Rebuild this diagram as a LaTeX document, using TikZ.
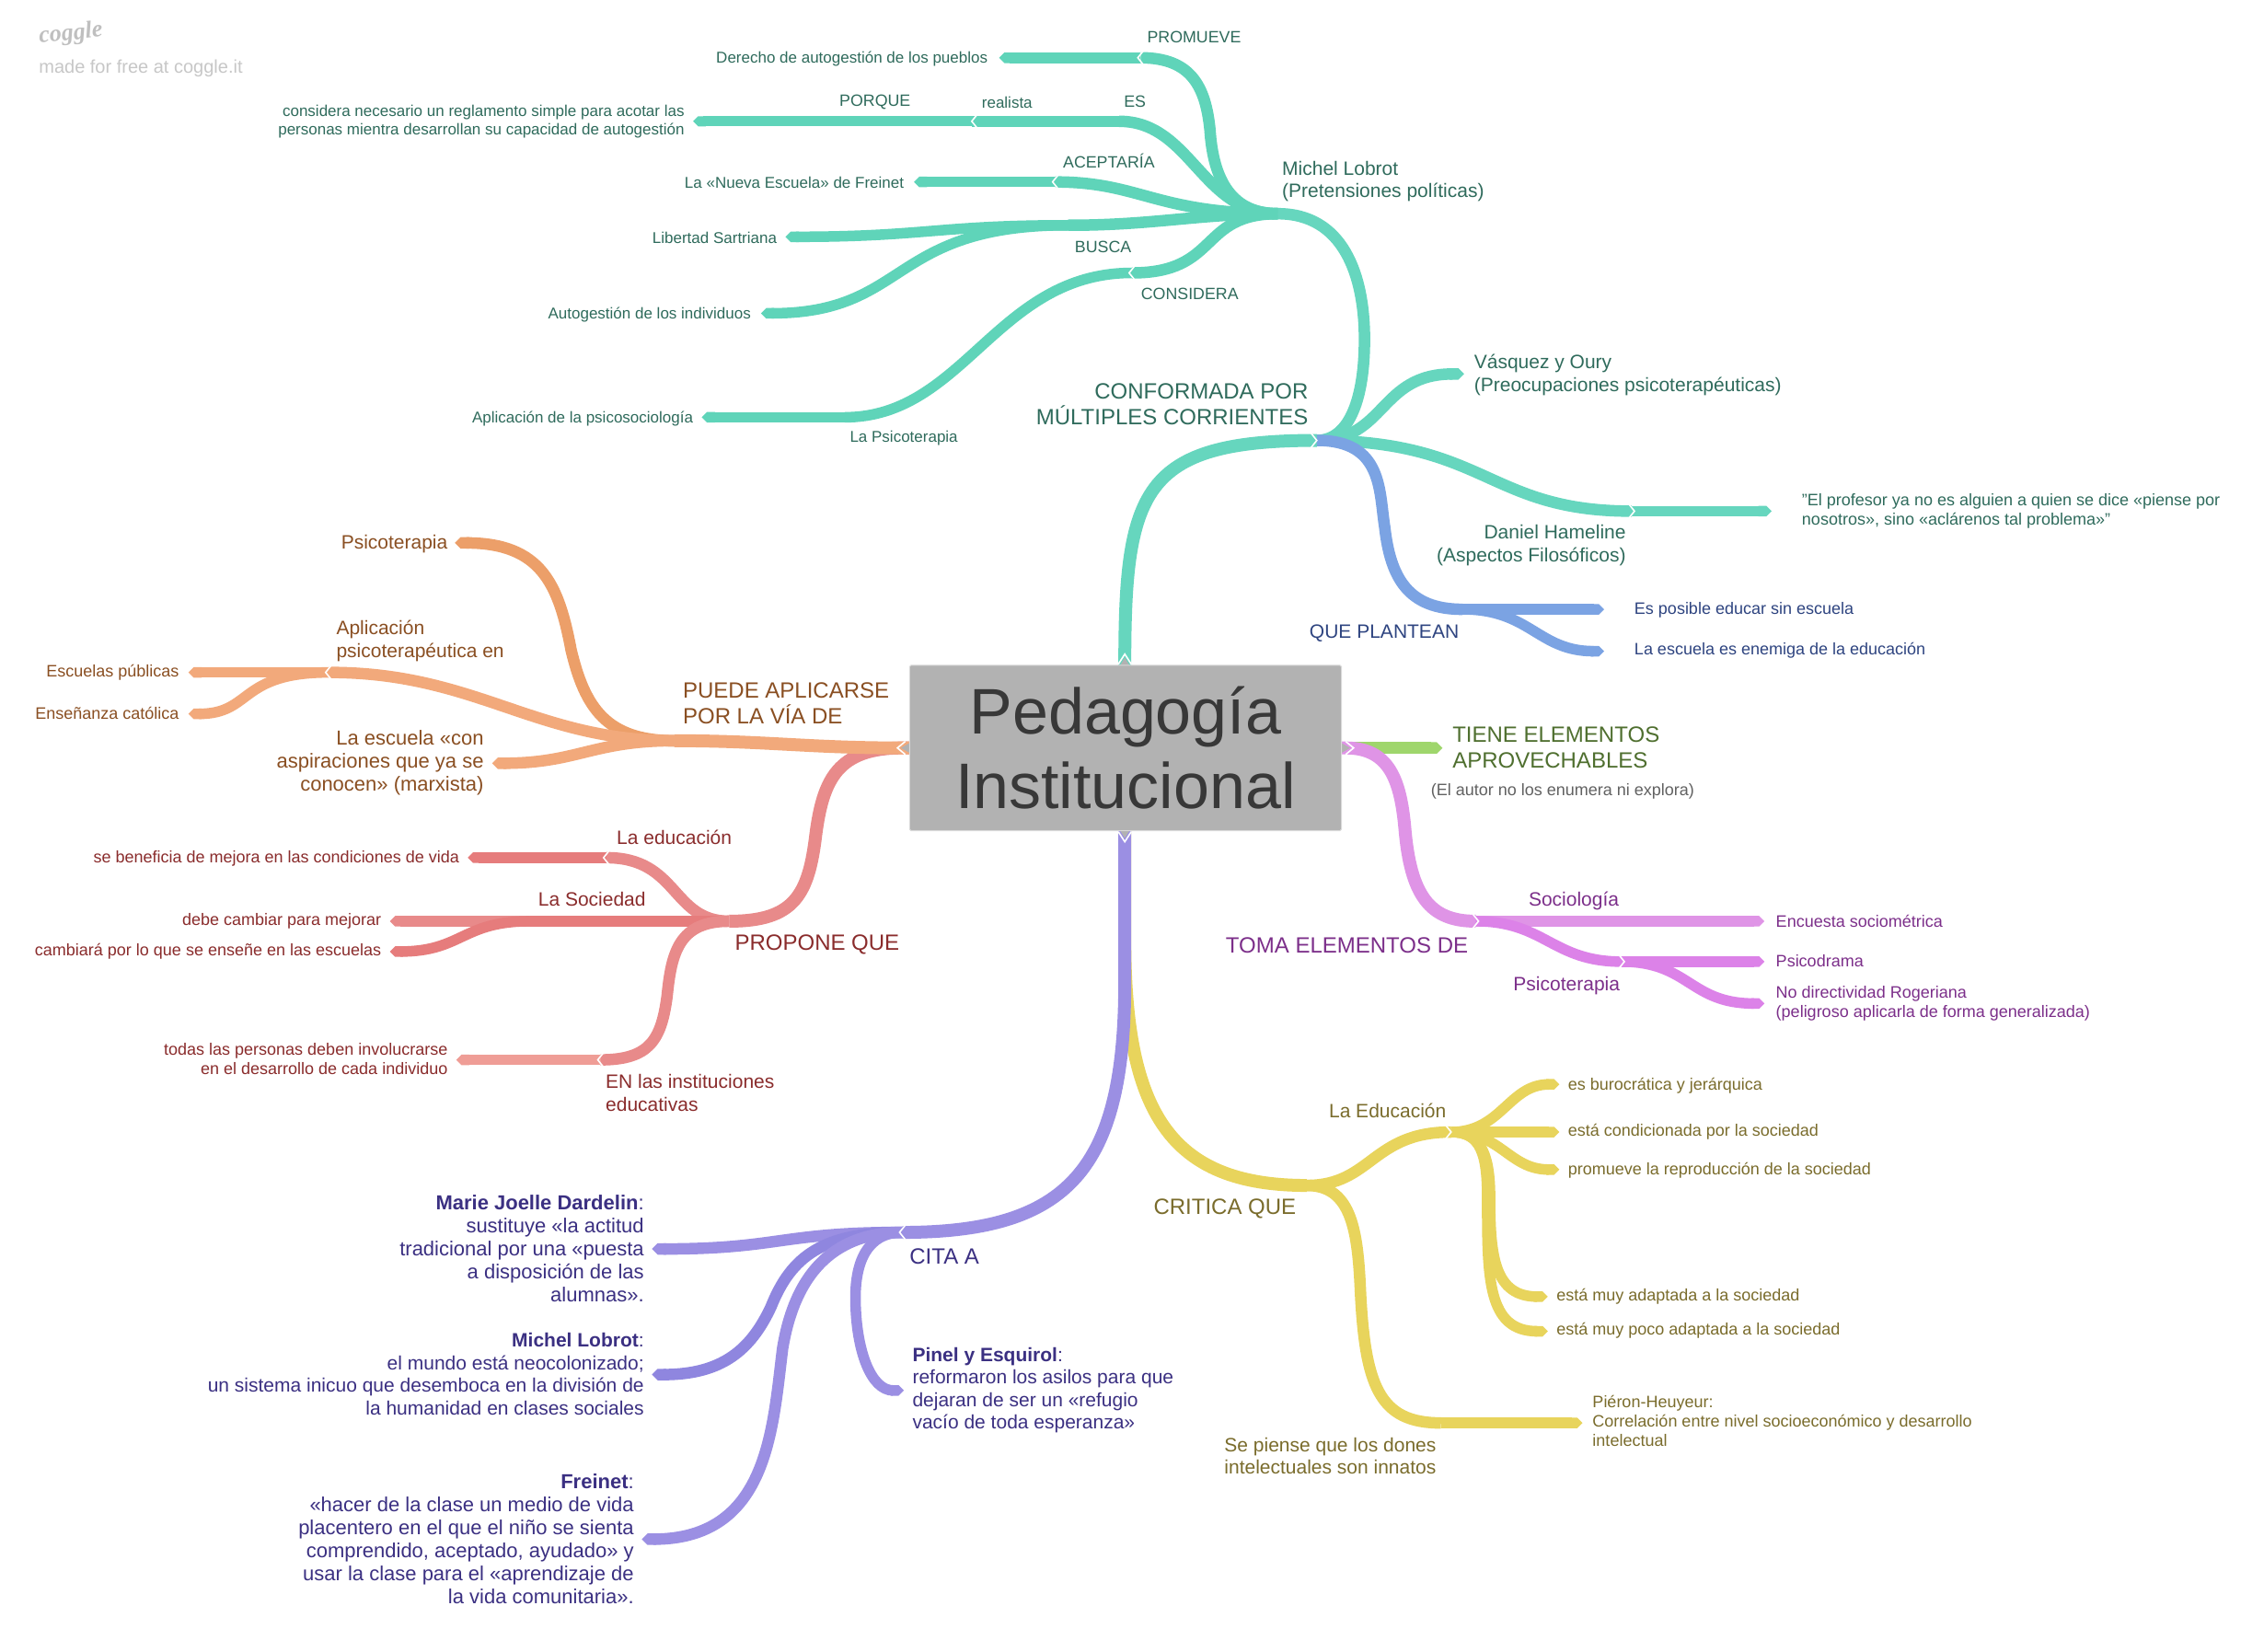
\documentclass[tikz,border=0pt]{standalone}
\usepackage{fontspec}
\setmainfont{Liberation Sans}
\newfontfamily\logofont{Liberation Serif}
\usetikzlibrary{arrows.meta}
\definecolor{teal1}{HTML}{66D6BE}
\definecolor{teal2}{HTML}{5FD4B9}
\definecolor{tealt}{HTML}{2F6B5C}
\definecolor{blue1}{HTML}{7BA3E3}
\definecolor{bluet}{HTML}{2E4480}
\definecolor{green1}{HTML}{9FD66C}
\definecolor{greent}{HTML}{4F6F2F}
\definecolor{pink1}{HTML}{DF94E6}
\definecolor{pink2}{HTML}{DC82E8}
\definecolor{pinkt}{HTML}{7C2F8A}
\definecolor{yel1}{HTML}{E8D45C}
\definecolor{yelt}{HTML}{7A6C2C}
\definecolor{pur1}{HTML}{9B8FE3}
\definecolor{pur2}{HTML}{8F86DF}
\definecolor{purt}{HTML}{3B3082}
\definecolor{red1}{HTML}{E88A8A}
\definecolor{red2}{HTML}{E67C7C}
\definecolor{red3}{HTML}{EF9D96}
\definecolor{redt}{HTML}{8A2C2C}
\definecolor{ora1}{HTML}{F2A97B}
\definecolor{ora2}{HTML}{EC9F69}
\definecolor{orat}{HTML}{8A4F22}
\definecolor{boxg}{HTML}{B2B2B2}
\tikzset{
  x=1.56888pt,y=-1.56888pt,
  lvA/.style={line width=14pt,line cap=butt},
  lvB/.style={line width=12.5pt,line cap=butt},
  lvC/.style={line width=11.5pt,line cap=butt},
  lvD/.style={line width=11pt,line cap=butt},
  tipend/.style={-{Triangle Cap[]}},
  txt/.style={inner sep=0pt,outer sep=0pt,yshift=-1.2pt},
  txz/.style={inner sep=0pt,outer sep=0pt},
  sA/.style={txt,font=\fontsize{17pt}{20.5pt}\selectfont},
  sAA/.style={txt,font=\fontsize{18pt}{21pt}\selectfont},
  sCap/.style={txt,font=\fontsize{17.8pt}{20.5pt}\selectfont},
  sB/.style={txt,font=\fontsize{21pt}{24.5pt}\selectfont},
  sBB/.style={txz,font=\fontsize{22pt}{25pt}\selectfont},
  sC/.style={txz,font=\fontsize{24pt}{28pt}\selectfont},
  L/.style={anchor=west,align=left},
  R/.style={anchor=east,align=right},
  chevline/.style={draw=white,line width=1.6pt,line join=miter},
}
\newcommand{\mychev}[4][5]{\draw[chevline,shift={#2},rotate=#3] (-4,-#1) -- (0,0) -- (-4,#1);}
\begin{document}
\begin{tikzpicture}
\path[use as bounding box,fill=white] (0,0) rectangle (1568,1144.12);

% --- junction and end coordinates
\coordinate (ct) at (779,462); \coordinate (cb) at (779,574);
\coordinate (cl) at (632,518); \coordinate (cr) at (927,518);
\coordinate (j1) at (912,305); \coordinate (jml) at (885,148);
\coordinate (eVO) at (1014,259); \coordinate (jDH) at (1130,354); \coordinate (eDH) at (1227,354);
\coordinate (jPM) at (790,40); \coordinate (ePM) at (692,40);
\coordinate (jES) at (775,84); \coordinate (jRE) at (673,84); \coordinate (jPQ) at (575,84); \coordinate (ePQ) at (480,84);
\coordinate (jAC) at (731,126); \coordinate (eAC) at (633,126);
\coordinate (jBU) at (740,156); \coordinate (eLS) at (544,164); \coordinate (eAI) at (527,217);
\coordinate (jCO) at (784,189); \coordinate (jPS) at (585,289); \coordinate (ePS) at (486,289);
\coordinate (jQP) at (1013,422); \coordinate (eQ1) at (1111,422); \coordinate (eQ2) at (1111,451);
\coordinate (eGR) at (999,518);
\coordinate (jTE) at (1022,638); \coordinate (jSO) at (1123,638); \coordinate (eSO) at (1222,638);
\coordinate (jPT) at (1123,666); \coordinate (ePD) at (1222,666); \coordinate (eND) at (1222,695);
\coordinate (jCR) at (905,821); \coordinate (jLE) at (1005,784);
\coordinate (eE1) at (1080,751); \coordinate (eE2) at (1080,784); \coordinate (eE3) at (1080,810);
\coordinate (eE4) at (1072,898); \coordinate (eE5) at (1072,922);
\coordinate (jSP) at (998,985.5); \coordinate (eSP) at (1096,985.5);
\coordinate (jCI) at (625,853.5); \coordinate (eMJ) at (451.5,865); \coordinate (eML) at (451.5,952);
\coordinate (eFR) at (444.5,1066); \coordinate (ePI) at (626,963);
\coordinate (jPR) at (505,638); \coordinate (jED) at (420,594); \coordinate (eED) at (324,594);
\coordinate (jSC) at (367,638); \coordinate (eS1) at (270,638); \coordinate (eS2) at (270,659);
\coordinate (jIN) at (416,734); \coordinate (eIN) at (316,734);
\coordinate (jPA) at (467,513); \coordinate (ePC) at (315,376); \coordinate (jAP) at (228,465.7);
\coordinate (eA1) at (130.5,465.7); \coordinate (eA2) at (130.5,494.4); \coordinate (eMX) at (340.8,528.6);

% --- yellow
\draw[lvA,yel1] (cb) -- (779,650) .. controls (779,770) and (810,821) .. (jCR);
\draw[lvB,yel1] (jCR) .. controls (950,821) and (950,784) .. (jLE);
\draw[lvC,yel1,tipend] (jLE) .. controls (1040,784) and (1045,751) .. (eE1);
\draw[lvC,yel1,tipend] (jLE) -- (eE2);
\draw[lvC,yel1,tipend] (jLE) .. controls (1040,784) and (1045,810) .. (eE3);
\draw[lvC,yel1,tipend] (jLE) .. controls (1026,784) and (1032,800) .. (1032,830) .. controls (1032,870) and (1035,898) .. (eE4);
\draw[lvC,yel1,tipend] (jLE) .. controls (1026,784) and (1030,800) .. (1030,830) .. controls (1030,885) and (1030,922) .. (eE5);
\draw[lvB,yel1] (jCR) .. controls (935,821) and (940,850) .. (942,890) .. controls (945,960) and (955,985.5) .. (jSP);
\draw[lvC,yel1,tipend] (jSP) -- (eSP);

% --- purple
\draw[lvA,pur1] (cb) -- (779,680) .. controls (779,810) and (740,853.5) .. (jCI);
\draw[lvB,pur1,tipend] (jCI) .. controls (540,853.5) and (540,865) .. (eMJ);
\draw[lvB,pur2,tipend] (jCI) .. controls (570,853.5) and (548,870) .. (534,905) .. controls (520,935) and (500,952) .. (eML);
\draw[lvB,pur1,tipend] (jCI) .. controls (575,853.5) and (550,885) .. (542,934) .. controls (535,990) and (532,1066) .. (eFR);
\draw[lvC,pur1,tipend] (jCI) .. controls (600,853.5) and (592,875) .. (592.5,901) .. controls (593,935) and (603,963) .. (ePI);

% --- teal
\draw[lvA,teal1] (ct) .. controls (779,340) and (790,305) .. (j1);
\draw[lvB,teal1] (jml) .. controls (930,148) and (945,190) .. (945,235) .. controls (945,275) and (935,305) .. (j1);
\draw[lvB,teal1,tipend] (j1) .. controls (960,305) and (955,259) .. (eVO);
\draw[lvB,teal1] (j1) .. controls (1030,305) and (1030,354) .. (jDH);
\draw[lvC,teal1,tipend] (jDH) -- (eDH);
\draw[lvB,teal2] (jml) .. controls (850,148) and (840,120) .. (838,90) .. controls (835,60) and (825,40) .. (jPM);
\draw[lvC,teal2,tipend] (jPM) -- (ePM);
\draw[lvB,teal2] (jml) .. controls (832,148) and (825,84) .. (jES);
\draw[lvC,teal2] (jES) -- (jRE);
\draw[lvD,teal2] (jRE) -- (jPQ);
\draw[lvD,teal2,tipend] (jPQ) -- (ePQ);
\draw[lvB,teal2] (jml) .. controls (800,148) and (790,126) .. (jAC);
\draw[lvC,teal2,tipend] (jAC) -- (eAC);
\draw[lvB,teal2] (jml) .. controls (830,148) and (800,156) .. (jBU);
\draw[lvC,teal2,tipend] (jBU) .. controls (650,156) and (640,164) .. (eLS);
\draw[lvC,teal2,tipend] (jBU) .. controls (615,156) and (630,217) .. (eAI);
\draw[lvB,teal2] (jml) .. controls (830,148) and (845,189) .. (jCO);
\draw[lvC,teal2] (jCO) .. controls (690,189) and (668,289) .. (jPS);
\draw[lvC,teal2,tipend] (jPS) -- (ePS);

% --- blue
\draw[lvB,blue1] (j1) .. controls (958,305) and (955,340) .. (959,365) .. controls (963,400) and (975,422) .. (jQP);
\draw[lvC,blue1,tipend] (jQP) -- (eQ1);
\draw[lvC,blue1,tipend] (jQP) .. controls (1060,422) and (1065,451) .. (eQ2);

% --- green and pink
\draw[lvB,green1,tipend] (cr) -- (eGR);
\draw[lvA,pink1] (cr) -- (932,518) .. controls (962,518) and (970,540) .. (973,574) .. controls (977,620) and (990,638) .. (jTE);
\draw[lvC,pink1] (jTE) -- (jSO);
\draw[lvC,pink1,tipend] (jSO) -- (eSO);
\draw[lvC,pink2] (jTE) .. controls (1070,638) and (1075,666) .. (jPT);
\draw[lvC,pink2,tipend] (jPT) -- (ePD);
\draw[lvC,pink2,tipend] (jPT) .. controls (1170,666) and (1170,695) .. (eND);

% --- red
\draw[lvA,red1] (cl) -- (625,518) .. controls (580,518) and (570,540) .. (565,578) .. controls (560,620) and (550,638) .. (jPR);
\draw[lvB,red1] (jPR) .. controls (465,638) and (470,594) .. (jED);
\draw[lvC,red2,tipend] (jED) -- (eED);
\draw[lvB,red2] (jPR) -- (jSC);
\draw[lvC,red1,tipend] (jSC) -- (eS1);
\draw[lvC,red2,tipend] (jSC) .. controls (320,638) and (320,659) .. (eS2);
\draw[lvB,red1] (jPR) .. controls (470,638) and (465,660) .. (462,690) .. controls (458,720) and (450,734) .. (jIN);
\draw[lvC,red3,tipend] (jIN) -- (eIN);

% --- orange
\draw[lvA,ora1] (cl) -- (625,518) .. controls (560,518) and (530,513) .. (jPA);
\draw[lvB,ora2,tipend] (jPA) .. controls (420,513) and (405,490) .. (395.5,450) .. controls (387,405) and (375,376) .. (ePC);
\draw[lvB,ora1] (jPA) .. controls (370,513) and (330,465.7) .. (jAP);
\draw[lvC,ora1,tipend] (jAP) -- (eA1);
\draw[lvC,ora1,tipend] (jAP) .. controls (165,465.7) and (175,494.4) .. (eA2);
\draw[lvB,ora1,tipend] (jPA) .. controls (410,513) and (400,528.6) .. (eMX);

% --- central box
\fill[boxg] (775,462) -- (779,455.5) -- (783,462) -- cycle;
\fill[boxg] (775,574) -- (779,580.5) -- (783,574) -- cycle;
\fill[boxg] (631,514) -- (624,518) -- (631,522) -- cycle;
\fill[boxg] (928,514) -- (935,518) -- (928,522) -- cycle;
\node[draw=white!85!black,fill=boxg,rounded corners=1.5pt,line width=1pt,minimum width=299*1.56888pt,minimum height=114.5*1.56888pt,inner sep=0pt,text=black!78,align=center,font=\fontsize{70pt}{81pt}\selectfont] (center) at (779.5,518) {Pedagogía\\Institucional};

% --- chevrons
\draw[chevline] (774.5,460) -- (779,453) -- (783.5,460);
\draw[chevline] (774.5,576) -- (779,583) -- (783.5,576);
\draw[chevline] (627,513.5) -- (621.5,518) -- (627,522.5);
\draw[chevline] (932,513.5) -- (937.5,518) -- (932,522.5);
\mychev{(912,305)}{0}
\mychev{(882,148)}{180}
\mychev{(788,40)}{180}
\mychev{(773,84)}{180}
\mychev{(673,84)}{180}
\mychev{(575,84)}{180}
\mychev{(729,126)}{180}
\mychev{(738,156)}{180}
\mychev{(782,189)}{180}
\mychev{(583,289)}{180}
\mychev{(1132,354)}{0}
\mychev{(1017,422)}{0}
\mychev{(1024,638)}{0}
\mychev{(1125,638)}{0}
\mychev{(1125,666)}{0}
\mychev{(907,821)}{0}
\mychev{(1005,784)}{0}
\mychev{(1000,985.5)}{0}
\mychev{(623,853.5)}{180}
\mychev{(503,638)}{180}
\mychev{(418,594)}{180}
\mychev{(365,638)}{180}
\mychev{(414,734)}{180}
\mychev{(466,513)}{180}
\mychev{(225.5,465.7)}{180}

% --- logo
\node[inner sep=0pt,anchor=west,rotate=6,text=black!25,font=\logofont\itshape\bfseries\fontsize{26pt}{28pt}\selectfont] (logo) at (27,26) {coggle};
\node[txt,anchor=west,text=black!22,font=\fontsize{20pt}{24pt}\selectfont] (made) at (27,46.5) {made for free at coggle.it};

% --- teal text
\begin{scope}[text=tealt]
\node[sA,R] (t1) at (684,40) {Derecho de autogestión de los pueblos};
\node[sCap] (t2) at (827,25) {PROMUEVE};
\node[sA,R] (t3) at (474,83.5) {considera necesario un reglamento simple para acotar las\\personas mientra desarrollan su capacidad de autogestión};
\node[sCap] (t4) at (606,70) {PORQUE};
\node[sA] (t5) at (697.5,70) {realista};
\node[sCap] (t6) at (786,69.5) {ES};
\node[sA,R] (t7) at (626,125.5) {La «Nueva Escuela» de Freinet};
\node[sCap] (t8) at (768,110.5) {ACEPTARÍA};
\node[sA,R] (t9) at (538,164) {Libertad Sartriana};
\node[sCap] (t10) at (764,170) {BUSCA};
\node[sA,R] (t11) at (520,217.5) {Autogestión de los individuos};
\node[sCap] (t12) at (824,203) {CONSIDERA};
\node[sA,R] (t13) at (480,289) {Aplicación de la psicosociología};
\node[sA] (t14) at (626,303) {La Psicoterapia};
\node[sB,L] (t15) at (888,125) {Michel Lobrot\\(Pretensiones políticas)};
\node[sC,R] (t16) at (906,280) {CONFORMADA POR\\MÚLTIPLES CORRIENTES};
\node[sB,L] (t17) at (1021,259) {Vásquez y Oury\\(Preocupaciones psicoterapéuticas)};
\node[sB,R] (t18) at (1126,377) {Daniel Hameline\\(Aspectos Filosóficos)};
\node[sAA,L] (t19) at (1248,353.5) {"El profesor ya no es alguien a quien se dice «piense por\\nosotros», sino «aclárenos tal problema»"};
\end{scope}

% --- blue text
\begin{scope}[text=bluet]
\node[sB,L] (b1) at (907,438) {QUE PLANTEAN};
\node[sAA,L] (b2) at (1132,422) {Es posible educar sin escuela};
\node[sAA,L] (b3) at (1132,450) {La escuela es enemiga de la educación};
\end{scope}

% --- green text
\node[sC,L,text=greent] (g1) at (1006,518) {TIENE ELEMENTOS\\APROVECHABLES};
\node[sAA,L,text=black!62] (g2) at (991,547) {(El autor no los enumera ni explora)};

% --- pink text
\begin{scope}[text=pinkt]
\node[sC,L] (p1) at (849,655) {TOMA ELEMENTOS DE};
\node[sB] (p2) at (1090,623) {Sociología};
\node[sB] (p3) at (1085,682) {Psicoterapia};
\node[sAA,L] (p4) at (1230,637) {Encuesta sociométrica};
\node[sAA,L] (p5) at (1230,665) {Psicodrama};
\node[sAA,L] (p6) at (1230,694) {No directividad Rogeriana\\(peligroso aplicarla de forma generalizada)};
\end{scope}

% --- yellow text
\begin{scope}[text=yelt]
\node[sC,L] (y1) at (799,837) {CRITICA QUE};
\node[sB] (y2) at (961,768.5) {La Educación};
\node[sAA,L] (y3) at (1086,751) {es burocrática y jerárquica};
\node[sAA,L] (y4) at (1086,783) {está condicionada por la sociedad};
\node[sAA,L] (y5) at (1086,810) {promueve la reproducción de la sociedad};
\node[sAA,L] (y6) at (1078,897) {está muy adaptada a la sociedad};
\node[sAA,L] (y7) at (1078,921) {está muy poco adaptada a la sociedad};
\node[sB,L] (y8) at (848,1007.5) {Se piense que los dones\\intelectuales son innatos};
\node[sAA,L] (y9) at (1103,983.5) {Piéron-Heuyeur:\\Correlación entre nivel socioeconómico y desarrollo\\intelectual};
\end{scope}

% --- purple text
\begin{scope}[text=purt]
\node[sC,L] (u1) at (630,870) {CITA A};
\node[sBB,R] (u2) at (446,864.5) {\textbf{Marie Joelle Dardelin}:\\sustituye «la actitud\\tradicional por una «puesta\\a disposición de las\\alumnas».};
\node[sB,R] (u3) at (446,951) {\textbf{Michel Lobrot}:\\el mundo está neocolonizado;\\un sistema inicuo que desemboca en la división de\\la humanidad en clases sociales};
\node[sBB,R] (u4) at (439,1065.5) {\textbf{Freinet}: \\«hacer de la clase un medio de vida\\placentero en el que el niño se sienta\\comprendido, aceptado, ayudado» y\\usar la clase para el «aprendizaje de\\la vida comunitaria».};
\node[sB,L] (u5) at (632,962) {\textbf{Pinel y Esquirol}:\\reformaron los asilos para que\\dejaran de ser un «refugio\\vacío de toda esperanza»};
\end{scope}

% --- red text
\begin{scope}[text=redt]
\node[sC,L] (r1) at (509,654) {PROPONE QUE};
\node[sB] (r2) at (467,579) {La educación};
\node[sB] (r3) at (410,622) {La Sociedad};
\node[sAA,R] (r4) at (318,594) {se beneficia de mejora en las condiciones de vida};
\node[sAA,R] (r5) at (264,637) {debe cambiar para mejorar};
\node[sAA,R] (r6) at (264,658) {cambiará por lo que se enseñe en las escuelas};
\node[sAA,R] (r7) at (310,732.5) {todas las personas deben involucrarse\\en el desarrollo de cada individuo};
\node[sB,L] (r8) at (419.5,756) {EN las instituciones\\educativas};
\end{scope}

% --- orange text
\begin{scope}[text=orat]
\node[sB,R] (o1) at (310,376) {Psicoterapia};
\node[sB,L] (o2) at (233,443) {Aplicación\\psicoterapéutica en};
\node[sAA,R] (o3) at (124,465) {Escuelas públicas};
\node[sAA,R] (o4) at (124,493) {Enseñanza católica};
\node[sBB,R] (o5) at (335,528) {La escuela «con\\aspiraciones que ya se\\conocen» (marxista)};
\node[sC,L] (o6) at (473,487) {PUEDE APLICARSE\\POR LA VÍA DE};
\end{scope}
\end{tikzpicture}
\end{document}
